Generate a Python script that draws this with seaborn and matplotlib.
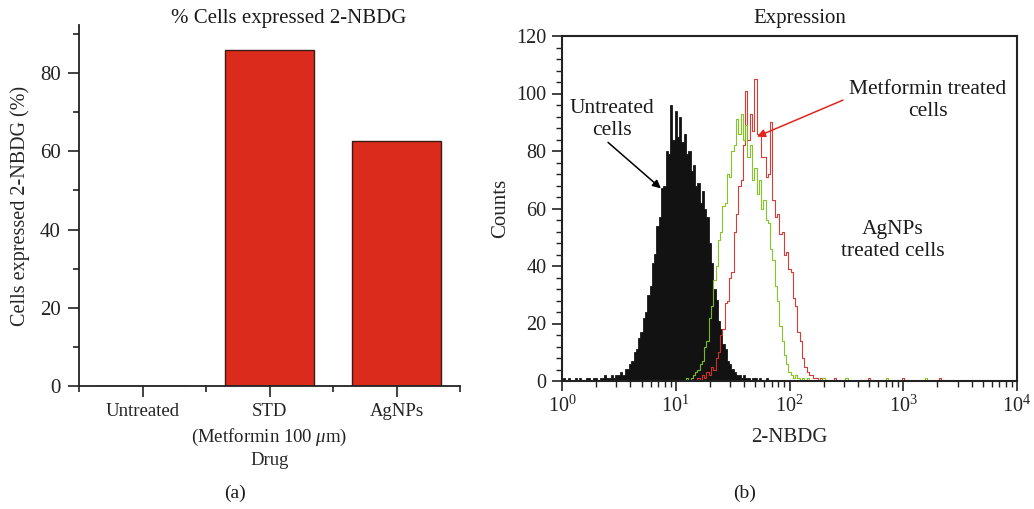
import numpy as np
import pandas as pd
import seaborn as sns
import matplotlib.pyplot as plt
from matplotlib.ticker import MultipleLocator, LogLocator, NullFormatter

# ---- data, panel (a) ----
drugs = ["Untreated", "STD\n(Metformin 100 $\\mu$m)", "AgNPs"]
pct_expressed = [0, 85.9, 62.6]

# ---- data, panel (b): flow histogram, counts per channel (log10 step 0.02) ----
log_channel = np.linspace(0, 4, 201)
untreated_counts = [
    0, 1, 0, 1, 0, 0, 1, 0, 1, 0, 0, 1, 1, 0, 1, 1, 0, 1, 1, 2,
    1, 1, 2, 1, 2, 2, 3, 2, 4, 4, 6, 7, 10, 11, 15, 17, 22, 24, 30, 33,
    41, 44, 54, 57, 67, 68, 80, 79, 96, 84, 94, 85, 92, 83, 86, 79, 80, 73, 75, 68,
    69, 62, 66, 60, 57, 48, 41, 32, 28, 21, 18, 13, 11, 7, 6, 4, 3, 2, 2, 1,
    2, 1, 1, 0, 1, 1, 0, 1, 0, 0, 1, 0, 0, 0, 0, 0, 0, 0, 0, 0,
    0, 0, 0, 0, 0, 0, 0, 0, 0, 0, 0, 0, 0, 0, 0, 0, 0, 0, 0, 0,
    0, 0, 0, 0, 0, 0, 0, 0, 0, 0, 0, 0, 0, 0, 0, 0, 0, 0, 0, 0,
    0, 0, 0, 0, 0, 0, 0, 0, 0, 0, 0, 0, 0, 0, 0, 0, 0, 0, 0, 0,
    0, 0, 0, 0, 0, 0, 0, 0, 0, 0, 0, 0, 0, 0, 0, 0, 0, 0, 0, 0,
    0, 0, 0, 0, 0, 0, 0, 0, 0, 0, 0, 0, 0, 0, 0, 0, 0, 0, 0, 0,
    0,
]
agnps_counts = [
    0, 0, 0, 0, 0, 0, 0, 0, 0, 0, 0, 0, 0, 0, 0, 0, 0, 0, 0, 0,
    0, 0, 0, 0, 0, 0, 0, 0, 0, 0, 0, 0, 0, 0, 0, 0, 0, 0, 0, 0,
    0, 0, 0, 0, 0, 0, 0, 0, 0, 0, 0, 0, 0, 0, 0, 1, 0, 1, 2, 3,
    4, 6, 7, 12, 14, 22, 26, 35, 40, 49, 52, 61, 62, 72, 71, 80, 82, 91, 86, 93,
    84, 89, 78, 82, 70, 74, 65, 70, 60, 63, 56, 55, 46, 42, 33, 28, 19, 14, 9, 6,
    3, 2, 1, 2, 1, 0, 1, 0, 1, 0, 0, 0, 0, 0, 0, 1, 0, 0, 0, 0,
    0, 0, 0, 0, 0, 1, 0, 0, 0, 0, 0, 0, 0, 0, 0, 0, 0, 0, 0, 0,
    0, 0, 0, 1, 0, 0, 0, 0, 0, 0, 0, 0, 0, 0, 0, 0, 0, 0, 0, 0,
    1, 0, 0, 0, 0, 0, 0, 0, 0, 0, 0, 0, 0, 0, 0, 0, 0, 0, 0, 0,
    0, 0, 0, 0, 0, 0, 0, 0, 0, 0, 0, 0, 0, 0, 0, 0, 0, 0, 0, 0,
    0,
]
metformin_counts = [
    0, 0, 0, 0, 0, 0, 0, 0, 0, 0, 0, 0, 0, 0, 0, 0, 0, 0, 0, 0,
    0, 0, 0, 0, 0, 0, 0, 0, 0, 0, 0, 0, 0, 0, 0, 0, 0, 0, 0, 0,
    0, 0, 0, 0, 0, 0, 0, 0, 0, 0, 0, 0, 0, 0, 0, 0, 0, 0, 0, 0,
    1, 0, 2, 1, 3, 2, 5, 4, 8, 10, 16, 18, 27, 28, 36, 38, 52, 58, 68, 70,
    82, 101, 84, 93, 87, 105, 86, 86, 78, 78, 71, 72, 90, 63, 57, 58, 51, 52, 44, 45,
    39, 38, 29, 26, 17, 14, 8, 5, 3, 2, 2, 1, 1, 0, 1, 0, 0, 0, 0, 0,
    1, 0, 0, 0, 0, 0, 0, 0, 0, 0, 0, 0, 0, 0, 0, 1, 0, 0, 0, 0,
    0, 0, 0, 0, 0, 0, 0, 0, 0, 0, 1, 0, 0, 0, 0, 0, 0, 0, 0, 0,
    0, 0, 0, 0, 0, 0, 1, 0, 0, 0, 0, 0, 0, 0, 0, 0, 0, 0, 0, 0,
    0, 0, 0, 0, 0, 0, 0, 0, 0, 0, 0, 0, 0, 0, 0, 0, 0, 0, 0, 0,
    0,
]

bar_red = "#db2b1c"
line_red = "#d9302b"
line_green = "#7cc41a"

sns.set_theme(style="ticks")
plt.rcParams["font.family"] = ["Liberation Serif", "DejaVu Serif"]
plt.rcParams["mathtext.fontset"] = "custom"
plt.rcParams["mathtext.rm"] = "Liberation Serif"
plt.rcParams["mathtext.it"] = "Liberation Serif:italic"
plt.rcParams["axes.edgecolor"] = "#222222"
plt.rcParams["xtick.color"] = "#222222"
plt.rcParams["ytick.color"] = "#222222"
plt.rcParams["text.color"] = "#1a1a1a"

fig = plt.figure(figsize=(10.34, 5.09), dpi=100)
W, H = 1034, 509
ax1 = fig.add_axes([79 / W, 1 - 386 / H, (460 - 79) / W, (386 - 25) / H])
ax2 = fig.add_axes([562 / W, 1 - 381 / H, (1017 - 562) / W, (381 - 36) / H])

# ---------- (a) bar chart ----------
bars = pd.DataFrame({"drug": drugs, "pct": pct_expressed})
sns.barplot(data=bars, x="drug", y="pct", color=bar_red, saturation=1,
            edgecolor="#3a1a14", linewidth=1.0, width=0.7, ax=ax1)
ax1.set_xlim(-0.5, 2.5)
ax1.set_ylim(0, 92.3)
ax1.yaxis.set_major_locator(MultipleLocator(20))
ax1.yaxis.set_minor_locator(MultipleLocator(10))
ax1.set_xticks([-0.5, 0.5, 1.5, 2.5], minor=True)
sns.despine(ax=ax1)
for s in ["left", "bottom"]:
    ax1.spines[s].set_linewidth(1.3)
ax1.tick_params(axis="both", which="major", direction="out", length=8, width=1.2)
ax1.tick_params(axis="y", which="major", labelsize=15, pad=5)
ax1.tick_params(axis="x", which="major", labelsize=13.5, pad=4)
ax1.tick_params(axis="both", which="minor", direction="out", length=4.5, width=1.2)
for lab in ax1.get_xticklabels():
    lab.set_linespacing(1.45)
ax1.set_ylabel("Cells expressed 2-NBDG (%)", fontsize=14.5)
ax1.yaxis.set_label_coords(-0.128, 0.5)
ax1.set_xlabel("Drug", fontsize=13.5)
ax1.xaxis.set_label_coords(0.5, -0.183)
fig.text(289 / W, 1 - 18 / H, "% Cells expressed 2-NBDG", ha="center", va="center", fontsize=15)

# ---------- (b) flow histogram ----------
hist = pd.DataFrame({
    "channel": 10 ** log_channel,
    "untreated": untreated_counts,
    "agnps": agnps_counts,
    "metformin": metformin_counts,
})
hist_kws = dict(data=hist, x="channel", binwidth=0.02, binrange=(-0.01, 4.01),
                log_scale=True, element="step", ax=ax2)
sns.histplot(weights="metformin", fill=False, color=line_red, linewidth=0.8, alpha=0.95, **hist_kws)
sns.histplot(weights="agnps", fill=False, color=line_green, linewidth=0.8, alpha=0.95, **hist_kws)
sns.histplot(weights="untreated", fill=True, color="black", alpha=0.93, linewidth=0.5, **hist_kws)

ax2.set_xlim(1, 1e4)
ax2.set_ylim(0, 120)
ax2.yaxis.set_major_locator(MultipleLocator(20))
ax2.yaxis.set_minor_locator(MultipleLocator(4))
ax2.xaxis.set_major_locator(LogLocator(base=10, numticks=10))
ax2.xaxis.set_minor_locator(LogLocator(base=10, subs=np.arange(2, 10), numticks=50))
ax2.xaxis.set_minor_formatter(NullFormatter())
for s in ax2.spines.values():
    s.set_linewidth(1.5)
ax2.tick_params(axis="both", which="major", direction="out", length=7, width=1.2, labelsize=14.5)
ax2.tick_params(axis="both", which="minor", direction="out", length=4, width=1.0)
ax2.tick_params(axis="y", pad=4)
ax2.set_ylabel("Counts", fontsize=15)
ax2.yaxis.set_label_coords(-0.114, 0.5)
ax2.set_xlabel("2-NBDG", fontsize=15)
ax2.xaxis.set_label_coords(0.5, -0.136)
fig.text(800 / W, 1 - 18 / H, "Expression", ha="center", va="center", fontsize=15)

ann_fs = 15.5
ax2.text(2.75, 91, "Untreated\ncells", ha="center", va="center", fontsize=ann_fs, linespacing=1.2)
ax2.annotate("", xy=(7.4, 67), xytext=(2.54, 83),
             arrowprops=dict(arrowstyle="-|>", color="black", lw=1.1, shrinkA=0,
                             shrinkB=0, mutation_scale=12))
ax2.text(1651, 97.7, "Metformin treated\ncells", ha="center", va="center", fontsize=ann_fs,
         linespacing=1.2)
ax2.annotate("", xy=(51.8, 85), xytext=(295, 97.7),
             arrowprops=dict(arrowstyle="-|>", color="#e0261e", lw=1.1, shrinkA=0,
                             shrinkB=0, mutation_scale=12))
ax2.text(813, 49, "AgNPs\ntreated cells", ha="center", va="center", fontsize=ann_fs,
         linespacing=1.2)

fig.text(235 / W, 1 - 493 / H, "(a)", ha="center", va="center", fontsize=14)
fig.text(745 / W, 1 - 493 / H, "(b)", ha="center", va="center", fontsize=14)

fig.savefig("out.png", dpi=100)
